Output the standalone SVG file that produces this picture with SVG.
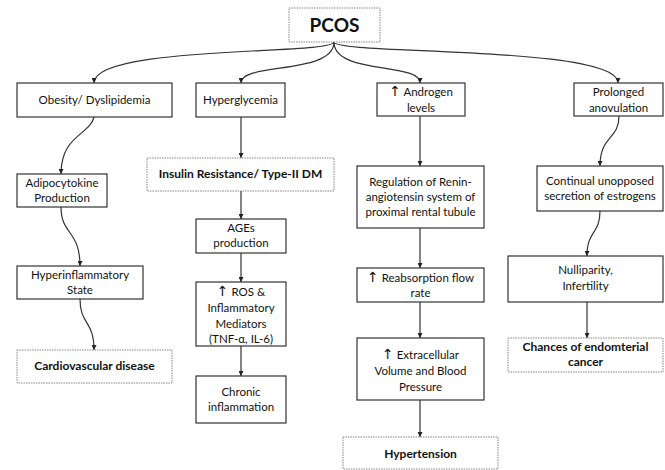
<svg xmlns="http://www.w3.org/2000/svg" width="665" height="470" viewBox="0 0 665 470">
<defs>
<marker id="ah" viewBox="0 0 10 10" refX="10" refY="5" markerWidth="5" markerHeight="5" orient="auto" markerUnits="userSpaceOnUse">
<path d="M0,0 L10,5 L0,10 z" fill="#222"/>
</marker>
<style>
.box{fill:#fff;stroke:#333;stroke-width:1.2}
.dot{fill:#fff;stroke:#888;stroke-width:1;stroke-dasharray:1.5 1}
.t{font-family:Lato,"Liberation Sans",sans-serif;font-size:11.5px;fill:#111;text-anchor:middle}
.b{font-family:Lato,"Liberation Sans",sans-serif;font-size:12px;font-weight:bold;fill:#111;text-anchor:middle}
.up{font-family:"DejaVu Sans",sans-serif;font-size:14px}
.c{fill:none;stroke:#333;stroke-width:1.2;marker-end:url(#ah)}
</style>
</defs>
<rect width="665" height="470" fill="#fff"/>
<g id="connectors">
<path class="c" d="M334,42 C334,55 94,45 94,83"/>
<path class="c" d="M334,42 C334,75 241,62 241,83"/>
<path class="c" d="M334,42 C334,75 420,62 420,83"/>
<path class="c" d="M334,42 C334,55 618,45 618,83"/>
<path class="c" d="M94,117 C90,135 61,135 61,174"/>
<path class="c" d="M61,207 C61,235 80,230 80,266"/>
<path class="c" d="M80,299 C80,325 94,320 94,350"/>
<path class="c" d="M241,117 L241,158"/>
<path class="c" d="M241,191 L241,219"/>
<path class="c" d="M241,253 L241,282"/>
<path class="c" d="M241,346 L241,376"/>
<path class="c" d="M420,116 L420,166"/>
<path class="c" d="M420,228 L420,268"/>
<path class="c" d="M420,302 L420,338"/>
<path class="c" d="M420,400 L420,437"/>
<path class="c" d="M619,116 C619,140 600,135 600,166"/>
<path class="c" d="M600,211 C600,235 587,230 587,256"/>
<path class="c" d="M587,302 L587,338"/>
</g>
<g id="pcos"><rect class="dot" x="289" y="8" width="91" height="34"/><text class="b" x="334.5" y="32" style="font-size:19px">PCOS</text></g>
<g id="obesity"><rect class="box" x="17" y="83" width="155" height="34"/><text class="t" x="94.5" y="104">Obesity/ Dyslipidemia</text></g>
<g id="hyperglycemia"><rect class="box" x="196" y="83" width="89" height="34"/><text class="t" x="240.5" y="104">Hyperglycemia</text></g>
<g id="androgen"><rect class="box" x="377" y="83" width="88" height="33"/><text class="t" x="421" y="96"><tspan class="up">↑</tspan> Androgen</text><text class="t" x="421" y="112">levels</text></g>
<g id="prolonged"><rect class="box" x="574" y="83" width="89" height="33"/><text class="t" x="618.5" y="96">Prolonged</text><text class="t" x="618.5" y="112">anovulation</text></g>
<g id="adipo"><rect class="box" x="17" y="174" width="90" height="33"/><text class="t" x="62" y="187">Adipocytokine</text><text class="t" x="62" y="202">Production</text></g>
<g id="hyperinfl"><rect class="box" x="17" y="266" width="126" height="33"/><text class="t" x="80" y="279">Hyperinflammatory</text><text class="t" x="80" y="294">State</text></g>
<g id="cardio"><rect class="dot" x="17" y="350" width="155" height="33"/><text class="b" x="94.5" y="370">Cardiovascular disease</text></g>
<g id="insulin"><rect class="dot" x="147" y="158" width="187" height="33"/><text class="b" x="240.5" y="178">Insulin Resistance/ Type-II DM</text></g>
<g id="ages"><rect class="box" x="196" y="219" width="90" height="34"/><text class="t" x="241" y="232">AGEs</text><text class="t" x="241" y="247">production</text></g>
<g id="ros"><rect class="box" x="196" y="282" width="90" height="64"/><text class="t" x="241" y="296"><tspan class="up">↑</tspan> ROS &amp;</text><text class="t" x="241" y="312">Inflammatory</text><text class="t" x="241" y="328">Mediators</text><text class="t" x="241" y="343">(TNF-α, IL-6)</text></g>
<g id="chronic"><rect class="box" x="196" y="376" width="90" height="47"/><text class="t" x="241" y="396">Chronic</text><text class="t" x="241" y="411">inflammation</text></g>
<g id="renin"><rect class="box" x="357" y="166" width="127" height="62"/><text class="t" x="420.5" y="186">Regulation of Renin-</text><text class="t" x="420.5" y="201">angiotensin system of</text><text class="t" x="420.5" y="216">proximal rental tubule</text></g>
<g id="reabs"><rect class="box" x="357" y="268" width="127" height="34"/><text class="t" x="420.5" y="282"><tspan class="up">↑</tspan> Reabsorption flow</text><text class="t" x="420.5" y="297">rate</text></g>
<g id="extra"><rect class="box" x="357" y="338" width="127" height="62"/><text class="t" x="420.5" y="359"><tspan class="up">↑</tspan> Extracellular</text><text class="t" x="420.5" y="375">Volume and Blood</text><text class="t" x="420.5" y="391">Pressure</text></g>
<g id="hypertension"><rect class="dot" x="343" y="437" width="155" height="32"/><text class="b" x="420.5" y="458">Hypertension</text></g>
<g id="continual"><rect class="box" x="537" y="166" width="126" height="45"/><text class="t" x="600" y="185">Continual unopposed</text><text class="t" x="600" y="200">secretion of estrogens</text></g>
<g id="nulli"><rect class="box" x="508" y="256" width="155" height="46"/><text class="t" x="585.5" y="274">Nulliparity,</text><text class="t" x="585.5" y="290">Infertility</text></g>
<g id="cancer"><rect class="dot" x="508" y="338" width="155" height="34"/><text class="b" x="585.5" y="351">Chances of endomterial</text><text class="b" x="585.5" y="366">cancer</text></g>
</svg>
